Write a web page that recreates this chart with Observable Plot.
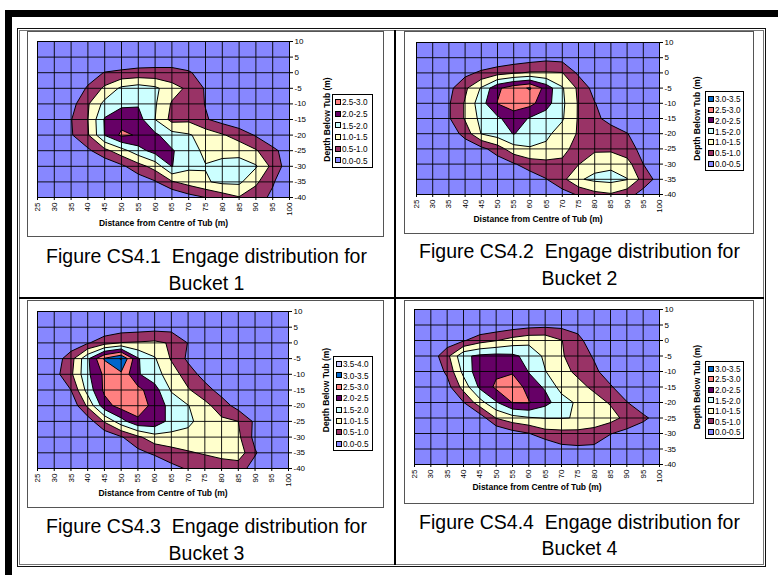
<!DOCTYPE html>
<html><head><meta charset="utf-8">
<script src="https://cdn.jsdelivr.net/npm/d3@7"></script>
<script src="https://cdn.jsdelivr.net/npm/@observablehq/plot@0.6"></script>
<style>
html,body{margin:0;padding:0;background:#fff;}
body{width:778px;height:575px;position:relative;overflow:hidden;font-family:"Liberation Sans",Arial,sans-serif;}
.abs{position:absolute;box-sizing:border-box;}
.cap{position:absolute;text-align:center;white-space:pre;font-size:19.5px;line-height:20px;color:#000;transform:scaleY(1.08);}
.leg{position:absolute;box-sizing:border-box;border:1px solid #000;background:#fff;font-size:8.2px;}
.leg .row{position:absolute;left:2px;height:11px;line-height:11px;white-space:nowrap;}
.leg .sw{display:inline-block;box-sizing:border-box;width:6px;height:6px;border:1px solid #000;vertical-align:middle;margin-right:1px;position:relative;top:-1px;}
</style></head><body>
<script>
// ---- data ----
const xTicks = [25,30,35,40,45,50,55,60,65,70,75,80,85,90,95,100];
const yTicks = [10,5,0,-5,-10,-15,-20,-25,-30,-35,-40];
const thresholds = [0.5,1.0,1.5,2.0,2.5,3.0,3.5];
const bandLabels = ["0.0-0.5","0.5-1.0","1.0-1.5","1.5-2.0","2.0-2.5","2.5-3.0","3.0-3.5","3.5-4.0"];
const xTitle = "Distance from Centre of Tub (m)";
const yTitle = "Depth Below Tub (m)";

// rows: y = 10, 5, 0, ... , -40 ; columns: x = 25 ... 100
const bucket1 = [
 [0,0,0,0,0,0,0,0,0,0,0,0,0,0,0,0],
 [0,0,0,0,0,0.05,0.15,0.2,0.2,0.15,0.05,0,0,0,0,0],
 [0,0,0.05,0.3,0.52,0.6,0.65,0.65,0.65,0.55,0.3,0.05,0,0,0,0],
 [0,0.05,0.2,0.55,1.1,1.6,1.75,1.6,1.2,0.9,0.45,0.1,0,0,0,0],
 [0,0.1,0.3,0.95,1.65,1.9,1.95,1.55,0.95,0.8,0.48,0.2,0.05,0,0,0],
 [0,0.15,0.48,1.0,2.05,2.3,2.2,1.5,0.85,0.9,0.55,0.3,0.1,0,0,0],
 [0,0.1,0.45,0.95,2.02,2.6,2.45,2.1,1.7,1.55,1.3,1.05,0.8,0.45,0.2,0.05],
 [0,0,0.1,0.4,0.85,1.3,1.8,2.2,2.05,1.7,1.4,1.35,1.3,1.05,0.6,0.3],
 [0,0,0,0,0.1,0.4,0.8,1.2,2.02,1.6,1.52,1.65,1.75,1.55,0.85,0.2],
 [0,0,0,0,0,0,0.2,0.45,0.95,1.2,1.45,1.6,1.6,1.1,0.55,0.1],
 [0,0,0,0,0,0,0,0,0,0.3,0.5,0.75,0.97,0.7,0.4,0]
];
const bucket2 = [
 [0,0,0,0,0,0,0,0,0,0,0,0,0,0,0,0],
 [0,0,0,0,0,0.05,0.15,0.25,0.35,0.3,0.1,0,0,0,0,0],
 [0,0,0.05,0.35,0.6,0.8,0.95,1.05,1.05,1.02,0.4,0.1,0,0,0,0],
 [0,0.1,0.35,0.9,1.55,2.4,2.8,3.05,2.3,1.55,0.9,0.3,0.05,0,0,0],
 [0,0.15,0.45,1.05,1.8,2.52,2.7,2.65,2.2,1.6,0.95,0.52,0.2,0.05,0,0],
 [0,0.1,0.45,1.05,1.65,1.9,2.3,1.95,1.75,1.55,0.95,0.6,0.35,0.1,0,0],
 [0,0,0.15,0.7,1.52,1.75,2.02,1.8,1.6,1.3,0.95,0.8,0.7,0.52,0.2,0.05],
 [0,0,0,0.1,0.35,0.75,1.3,1.45,1.4,1.15,0.8,0.9,0.9,0.7,0.35,0.1],
 [0,0,0,0,0,0.2,0.45,0.75,0.85,0.9,0.98,1.35,1.4,1.2,0.5,0.15],
 [0,0,0,0,0,0,0,0.2,0.48,0.85,1.45,1.6,1.65,1.52,0.8,0.3],
 [0,0,0,0,0,0,0,0,0,0.3,0.55,0.85,0.95,0.7,0.3,0]
];
const bucket3 = [
 [0,0,0,0,0,0,0,0,0,0,0,0,0,0,0,0],
 [0,0,0,0,0.1,0.2,0.25,0.3,0.3,0.3,0.1,0,0,0,0,0],
 [0,0,0.15,0.45,0.8,1.02,1.05,1.1,0.95,0.48,0.1,0,0,0,0,0],
 [0,0.2,0.8,1.9,3.05,3.55,2.05,1.55,0.95,0.4,0.1,0,0,0,0,0],
 [0,0.3,0.9,1.9,2.6,2.9,2.05,1.7,1.25,0.75,0.3,0.05,0,0,0,0],
 [0,0.1,0.5,1.7,2.6,2.8,2.65,2.2,1.45,1.05,0.7,0.3,0.05,0,0,0],
 [0,0,0.1,1.1,2.3,2.7,2.75,2.35,1.8,1.52,1.15,0.75,0.3,0.05,0,0],
 [0,0,0,0.2,1.05,1.8,2.4,2.35,1.8,1.6,1.3,1.1,1.0,0.4,0.05,0],
 [0,0,0,0,0.1,0.45,0.9,1.3,1.35,1.35,1.3,1.25,1.1,0.35,0.05,0],
 [0,0,0,0,0,0.1,0.35,0.6,0.8,0.95,1.05,1.15,1.3,0.55,0.1,0],
 [0,0,0,0,0,0,0,0,0.35,0.55,0.65,0.75,0.7,0.3,0,0]
];
const bucket4 = [
 [0,0,0,0,0,0,0,0,0,0,0,0,0,0,0,0],
 [0,0,0,0,0,0.1,0.2,0.3,0.35,0.35,0.3,0.3,0.1,0,0,0],
 [0,0.05,0.2,0.45,0.8,0.98,1.2,1.35,1.35,1.02,0.65,0.2,0,0,0,0],
 [0,0.2,0.85,1.9,2.1,2.15,2.1,1.85,1.4,1.05,0.75,0.45,0.1,0,0,0],
 [0,0.1,0.6,1.65,2.3,2.4,2.4,1.98,1.52,1.15,0.9,0.6,0.25,0.05,0,0],
 [0,0,0.3,1.2,2.1,2.6,3.02,2.2,1.95,1.3,1.15,0.9,0.55,0.2,0.05,0],
 [0,0,0.1,0.48,1.3,1.95,2.52,2.55,2.15,1.75,1.4,1.2,0.95,0.52,0.2,0.05],
 [0,0,0,0,0.2,1.02,1.3,1.45,1.52,1.52,1.48,1.4,1.2,0.85,0.6,0.3],
 [0,0,0,0,0,0,0.3,0.48,0.8,0.85,0.85,0.75,0.52,0.35,0.2,0.05],
 [0,0,0,0,0,0,0,0,0,0.35,0.4,0.4,0.15,0,0,0],
 [0,0,0,0,0,0,0,0,0,0,0,0,0,0,0,0]
];
const caption1 = ["Figure CS4.1  Engage distribution for", "Bucket 1"];
const caption2 = ["Figure CS4.2  Engage distribution for", "Bucket 2"];
const caption3 = ["Figure CS4.3  Engage distribution for", "Bucket 3"];
const caption4 = ["Figure CS4.4  Engage distribution for", "Bucket 4"];
const legendCount = [6, 7, 8, 7];

// ---- styles ----
const palette = ["#8787ff","#993366","#ffffcc","#ccffff","#660066","#ff8080","#0066cc","#ccccff"];

function el(cls, css, html) {
  const d = document.createElement("div");
  d.className = cls;
  Object.assign(d.style, css);
  if (html != null) d.textContent = html;
  document.body.appendChild(d);
  return d;
}
// page furniture
el("abs", {left:"5px", top:"10px", width:"773px", height:"7px", background:"#000"});
el("abs", {left:"5px", top:"10px", width:"7px", height:"565px", background:"#000"});
el("abs", {left:"17px", top:"28px", width:"749px", height:"539px", border:"1px solid #111"});
el("abs", {left:"19px", top:"30px", width:"745px", height:"535px", border:"1px solid #777"});
el("abs", {left:"394px", top:"30px", width:"2px", height:"535px", background:"#000"});
el("abs", {left:"19px", top:"297px", width:"745px", height:"2px", background:"#000"});

const charts = [
 {grid: bucket1, caption: caption1, n: legendCount[0], frame:[27,31,357,206], m:[10,95,40,10], legend:[332,94,41,74], cell:[19,394], capY:[255,282], xdy:26},
 {grid: bucket2, caption: caption2, n: legendCount[1], frame:[404,31,350,203], m:[11,95,40,12], legend:[705,91,39,80], cell:[396,763], capY:[250,277], xdy:25},
 {grid: bucket3, caption: caption3, n: legendCount[2], frame:[27,300,357,208], m:[11,96,40,10], legend:[333,356,40,95], cell:[19,394], capY:[525,552], xdy:25},
 {grid: bucket4, caption: caption4, n: legendCount[3], frame:[404,300,350,204], m:[9,95,40,10], legend:[705,361,39,78], cell:[396,763], capY:[521,547], xdy:23}
];

for (const c of charts) {
  const [fx, fy, fw, fh] = c.frame;
  const [mt, mr, mb, ml] = c.m;
  el("abs", {left: fx+"px", top: fy+"px", width: fw+"px", height: fh+"px", border:"1px solid #555", background:"#fff"});
  const svg = Plot.plot({
    width: fw, height: fh,
    marginTop: mt, marginRight: mr, marginBottom: mb, marginLeft: ml,
    x: {domain: [25, 100]},
    y: {domain: [-40, 10]},
    color: {type: "threshold", domain: thresholds.slice(1), range: palette.slice(1)},
    style: {fontFamily: "'Liberation Sans', Arial, sans-serif", fontSize: "8px", background: "transparent", overflow: "visible", color: "#000"},
    marks: [
      Plot.frame({fill: palette[0]}),
      Plot.contour(c.grid.flat(), {
        width: 16, height: 11, x1: 22.5, x2: 102.5, y1: 12.5, y2: -42.5,
        thresholds, fill: Plot.identity, stroke: "#000", strokeWidth: 1, clip: true
      }),
      Plot.gridX(xTicks, {stroke: "#000", strokeOpacity: 0.9, strokeWidth: 1}),
      Plot.gridY(yTicks, {stroke: "#000", strokeOpacity: 0.9, strokeWidth: 1}),
      Plot.frame({stroke: "#000"}),
      Plot.axisX(xTicks, {anchor: "bottom", tickRotate: -90, tickSize: 3, tickPadding: 2, label: null, tickFormat: d => String(d)}),
      Plot.axisY(yTicks, {anchor: "right", tickSize: 3, tickPadding: 2, label: null, tickFormat: d => String(d)}),
      Plot.text([xTitle], {text: d => d, frameAnchor: "bottom", dy: c.xdy, fontWeight: "bold", fontSize: 8.5, textAnchor: "middle", lineAnchor: "middle"}),
      Plot.text([yTitle], {text: d => d, frameAnchor: "right", dx: 38, rotate: -90, fontWeight: "bold", fontSize: 8.5, textAnchor: "middle", lineAnchor: "middle"})
    ]
  });
  svg.style.position = "absolute";
  svg.style.left = fx + "px";
  svg.style.top = fy + "px";
  document.body.appendChild(svg);

  // legend
  const [lx, ly, lw, lh] = c.legend;
  const leg = el("leg", {left: lx+"px", top: ly+"px", width: lw+"px", height: lh+"px"});
  const rowH = (lh - 4) / c.n;
  for (let i = 0; i < c.n; i++) {
    const band = c.n - 1 - i;
    const r = document.createElement("div");
    r.className = "row";
    r.style.top = (2 + i * rowH + (rowH - 11) / 2) + "px";
    const sw = document.createElement("span");
    sw.className = "sw";
    sw.style.background = palette[band];
    r.appendChild(sw);
    r.appendChild(document.createTextNode(bandLabels[band]));
    leg.appendChild(r);
  }

  // caption
  const [cx0, cx1] = c.cell;
  c.caption.forEach((t, i) => {
    el("cap", {left: cx0+"px", width: (cx1-cx0)+"px", top: (c.capY[i] - 10)+"px"}, t);
  });
}
</script>
</body></html>
